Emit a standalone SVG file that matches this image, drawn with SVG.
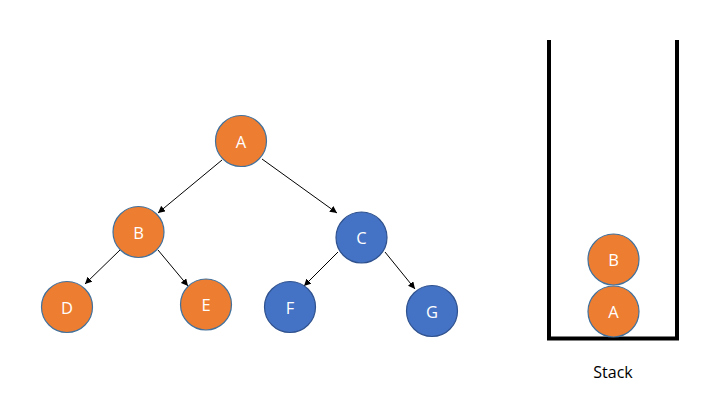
<svg xmlns="http://www.w3.org/2000/svg" width="722" height="398" viewBox="0 0 722 398">
<style>
.o{fill:#ED7D31;stroke:#41719C;stroke-width:1.2}
.b{fill:#4472C4;stroke:#2F528F;stroke-width:1.2}
.t{font-family:"Open Sans","Noto Sans",sans-serif;font-size:16.5px;fill:#fff;text-anchor:middle;dominant-baseline:central}
.e{stroke:#000;stroke-width:1;fill:none;marker-end:url(#ah)}
.w{stroke:#000;stroke-width:4;fill:none}
</style>
<defs>
<marker id="ah" viewBox="0 0 10 10" refX="10" refY="5" markerWidth="7" markerHeight="7" markerUnits="userSpaceOnUse" orient="auto">
<path d="M0,0 L10,5 L0,10 z" fill="#000"/>
</marker>
</defs>
<g id="connectors">
<line class="e" x1="222" y1="160" x2="158" y2="213"/>
<line class="e" x1="262" y1="159" x2="337" y2="213"/>
<line class="e" x1="120" y1="250" x2="85" y2="284"/>
<line class="e" x1="158" y1="250" x2="188" y2="286"/>
<line class="e" x1="338" y1="252" x2="304" y2="286"/>
<line class="e" x1="385" y1="252" x2="415" y2="289"/>
</g>
<g id="A"><circle class="o" cx="241" cy="141" r="25.5"/><text class="t" x="241" y="141">A</text></g>
<g id="B"><circle class="o" cx="138.5" cy="232" r="25.5"/><text class="t" x="138.5" y="232">B</text></g>
<g id="C"><circle class="b" cx="361.5" cy="237.5" r="25.5"/><text class="t" x="361.5" y="237.5">C</text></g>
<g id="D"><circle class="o" cx="67" cy="307" r="25.5"/><text class="t" x="67" y="307">D</text></g>
<g id="E"><circle class="o" cx="206" cy="304.5" r="25.5"/><text class="t" x="206" y="304.5">E</text></g>
<g id="F"><circle class="b" cx="290" cy="307" r="25.5"/><text class="t" x="290" y="307">F</text></g>
<g id="G"><circle class="b" cx="432" cy="311" r="25.5"/><text class="t" x="432" y="311">G</text></g>
<g id="stack">
<path class="w" d="M549,40 V338.5 H677 V40"/>
<text x="613" y="372" style="font-family:'Open Sans','Noto Sans',sans-serif;font-size:16px;fill:#000;text-anchor:middle;dominant-baseline:central">Stack</text>
</g>
<g id="stackB"><circle class="o" cx="613.5" cy="259.5" r="25.5"/><text class="t" x="613.5" y="259.5">B</text></g>
<g id="stackA"><circle class="o" cx="613.5" cy="311.5" r="25.5"/><text class="t" x="613.5" y="311.5">A</text></g>
</svg>
